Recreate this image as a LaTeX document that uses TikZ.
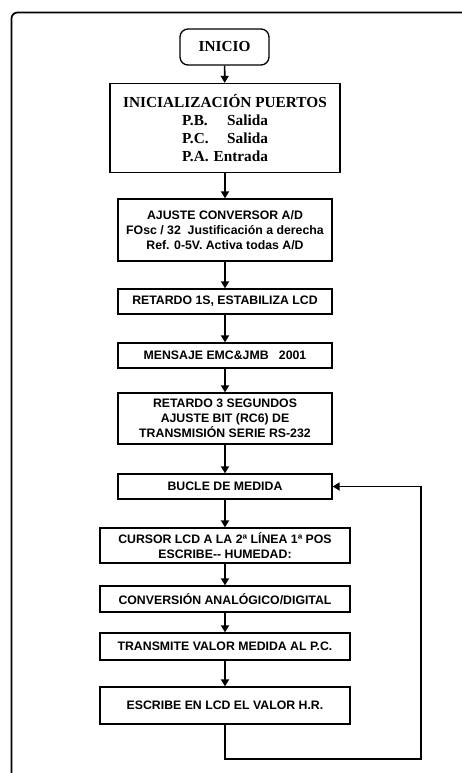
\documentclass[tikz,border=0pt]{standalone}
\usepackage{fontspec}
\setmainfont{Liberation Serif}
\setsansfont{Liberation Sans}
\usetikzlibrary{arrows.meta}
\begin{document}
\begin{tikzpicture}[x=1pt,y=-1pt,
  box/.style={draw,line width=1.3pt,inner sep=0pt,align=center,
    font=\sffamily\bfseries\fontsize{12.3}{15}\selectfont},
  serifbox/.style={box,font=\rmfamily\bfseries\fontsize{15.3}{18.3}\selectfont},
  conn/.style={line width=1.7pt,-{Triangle[length=7pt,width=8pt]}}]
\useasboundingbox (0,0) rectangle (462,773);
\clip (0,0) rectangle (462,773);
\fill[white] (0,0) rectangle (462,773);
\draw[line width=1.7pt,rounded corners=6pt] (11.5,800) -- (11.5,12.5) -- (500,12.5);

\node[serifbox,rounded corners=8pt,minimum width=89pt,minimum height=36pt] (inicio) at (224.5,47) {INICIO};
\node[serifbox,minimum width=230pt,minimum height=89pt] (init) at (225,128)
  {INICIALIZACIÓN PUERTOS\\
   \makebox[86pt]{P.B.\hfill Salida}\\
   \makebox[86pt]{P.C.\hfill Salida}\\
   \makebox[86pt]{P.A.\hfill Entrada}};
\node[box,minimum width=214pt,minimum height=62pt] (ajuste) at (225,230)
  {AJUSTE CONVERSOR A/D\\FOsc / 32\ \ Justificación a derecha\\Ref. 0-5V. Activa todas A/D};
\node[box,minimum width=214pt,minimum height=25pt] (ret1) at (225,301.5) {RETARDO 1S, ESTABILIZA LCD};
\node[box,minimum width=214pt,minimum height=25pt] (mensaje) at (225,355.5) {MENSAJE EMC\&JMB\ \ \ 2001};
\node[box,minimum width=214pt,minimum height=51pt] (ret3) at (225,418.5)
  {RETARDO 3 SEGUNDOS\\AJUSTE BIT (RC6) DE\\TRANSMISIÓN SERIE RS-232};
\node[box,minimum width=214pt,minimum height=25pt] (bucle) at (225,486.5) {BUCLE DE MEDIDA};
\node[box,minimum width=250pt,minimum height=35pt] (cursor) at (225,545.5)
  {CURSOR LCD A LA 2ª LÍNEA 1ª POS\\ESCRIBE-{}- HUMEDAD:};
\node[box,minimum width=250pt,minimum height=26pt] (conv) at (225,599) {CONVERSIÓN ANALÓGICO/DIGITAL};
\node[box,minimum width=250pt,minimum height=27pt] (trans) at (225,646.5) {TRANSMITE VALOR MEDIDA AL P.C.};
\node[box,minimum width=250pt,minimum height=37pt] (escribe) at (225,705.5) {ESCRIBE EN LCD EL VALOR H.R.};

\coordinate (loopc) at (421,759);

\draw[conn] (inicio) -- (init);
\draw[conn] (init) -- (ajuste);
\draw[conn] (ajuste) -- (ret1);
\draw[conn] (ret1) -- (mensaje);
\draw[conn] (mensaje) -- (ret3);
\draw[conn] (ret3) -- (bucle);
\draw[conn] (bucle) -- (cursor);
\draw[conn] (cursor) -- (conv);
\draw[conn] (conv) -- (trans);
\draw[conn] (trans) -- (escribe);
\draw[conn] (escribe.south) |- (loopc) |- (bucle.east);
\end{tikzpicture}
\end{document}
